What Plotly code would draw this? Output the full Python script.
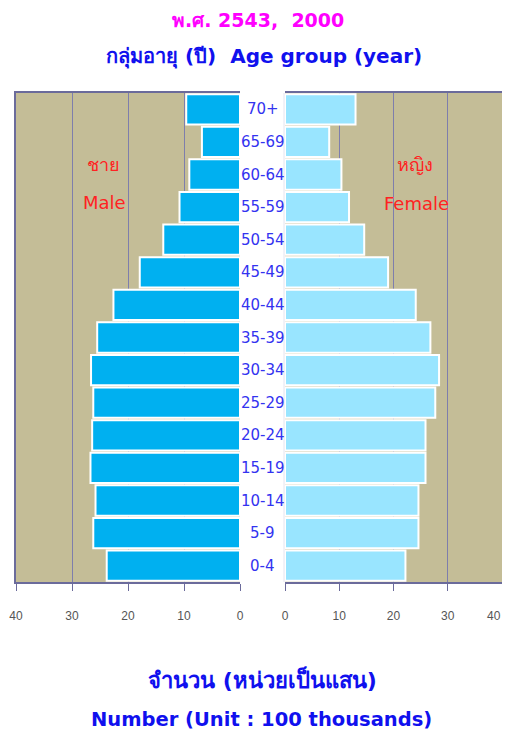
import plotly.graph_objects as go

ages = ["0-4", "5-9", "10-14", "15-19", "20-24", "25-29", "30-34", "35-39",
        "40-44", "45-49", "50-54", "55-59", "60-64", "65-69", "70+"]
male = [23.8, 26.2, 25.8, 26.7, 26.4, 26.2, 26.6, 25.5, 22.6, 17.9, 13.7, 10.8, 9.05, 6.8, 9.6]
female = [22.2, 24.6, 24.6, 25.9, 25.9, 27.7, 28.4, 26.8, 24.1, 19.0, 14.6, 11.8, 10.4, 8.15, 13.0]
x_ticks = [0, 10, 20, 30, 40]

OFF = 8  # page body margin
W, H = 510, 733 - OFF
def px(x): return (x - OFF) / W
def py(y): return 1 - (y - OFF) / H

FONT = "DejaVu Sans, Noto Sans, sans-serif"
TICKFONT = dict(family="Liberation Sans, Arial, sans-serif", size=12, color="#555555")
TAN = "#C4BD97"
GRID = "#7E7EAC"
BORDER = "#6B6B9B"

fig = go.Figure()
fig.add_trace(go.Bar(y=ages, x=male, orientation="h", xaxis="x", yaxis="y",
                     marker=dict(color="#00B0F0", line=dict(color="white", width=2)),
                     showlegend=False, hoverinfo="x+y"))
fig.add_trace(go.Bar(y=ages, x=female, orientation="h", xaxis="x2", yaxis="y2",
                     marker=dict(color="#99E5FF", line=dict(color="white", width=2)),
                     showlegend=False, hoverinfo="x+y"))

ydom = [py(582), py(93)]
common_x = dict(tickvals=x_ticks,
                showgrid=True, gridcolor=GRID, gridwidth=1, zeroline=False,
                showline=True, linecolor=BORDER, linewidth=2, mirror=True,
                ticks="outside", ticklen=7, tickcolor=BORDER, automargin=False,
                ticklabeloverflow="allow", tickfont=TICKFONT,
                ticklabelstandoff=15, fixedrange=True)
right_text = [str(v) for v in x_ticks[:-1]] + [""]
fig.update_layout(
    template="none",
    width=W, height=H,
    margin=dict(l=0, r=0, t=0, b=0, autoexpand=False),
    paper_bgcolor="white", plot_bgcolor=TAN,
    bargap=0.07, showlegend=False,
    xaxis=dict(domain=[px(16), px(240)], range=[40, 0], anchor="y",
               ticktext=[str(v) for v in x_ticks], **common_x),
    yaxis=dict(domain=ydom, anchor="x", showticklabels=False, ticks="", automargin=False,
               showline=True, linecolor=BORDER, linewidth=2, side="left",
               showgrid=False, fixedrange=True),
    xaxis2=dict(domain=[px(285), px(502)], range=[0, 40], anchor="y2",
                ticktext=right_text, **common_x),
    yaxis2=dict(domain=ydom, anchor="x2", showticklabels=False, ticks="", automargin=False,
                showline=True, linecolor=BORDER, linewidth=2, side="right",
                showgrid=False, fixedrange=True),
)

ann = []
for a in ages:
    ann.append(dict(x=px(262.5), xref="paper", y=a, yref="y", text=a, showarrow=False,
                    xanchor="center", yanchor="middle",
                    font=dict(family=FONT, size=15, color="#3333F0")))
# last tick label of the right axis, kept inside the visible page edge
ann.append(dict(x=x_ticks[-1], xref="x2", y=py(616), yref="paper", text=str(x_ticks[-1]),
                showarrow=False, xanchor="right", yanchor="middle", xshift=1, font=TICKFONT))
titles = [
    dict(x=px(258), y=py(20), text="<b>พ.ศ. 2543,  2000</b>", font=dict(family=FONT, size=19, color="#FF00FF")),
    dict(x=px(264), y=py(57), text="<b>กลุ่มอายุ (ปี)  Age group (year)</b>", font=dict(family=FONT, size=20, color="#1010EE")),
    dict(x=px(103), y=py(165), text="ชาย", font=dict(family=FONT, size=18, color="#FF2222")),
    dict(x=px(104), y=py(202), text="Male", font=dict(family=FONT, size=18, color="#FF2222")),
    dict(x=px(415), y=py(165), text="หญิง", font=dict(family=FONT, size=18, color="#FF2222")),
    dict(x=px(416), y=py(203), text="Female", font=dict(family=FONT, size=18, color="#FF2222")),
    dict(x=px(262), y=py(679), text="<b>จำนวน (หน่วยเป็นแสน)</b>", font=dict(family=FONT, size=22, color="#1010EE")),
    dict(x=px(261), y=py(719), text="<b>Number (Unit : 100 thousands)</b>", font=dict(family=FONT, size=19.5, color="#1010EE")),
]
for a in titles:
    a.update(xref="paper", yref="paper", showarrow=False, xanchor="center", yanchor="middle")
fig.update_layout(annotations=ann + titles)

fig.add_shape(type="line", xref="paper", yref="paper", x0=px(284), x1=px(284),
              y0=ydom[0], y1=ydom[1], line=dict(color="#E4E4F0", width=1))

fig.write_html("out.html")
